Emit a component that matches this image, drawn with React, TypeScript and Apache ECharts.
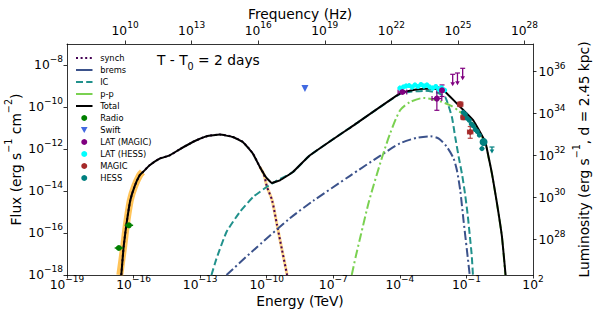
import React, { useEffect, useRef } from "react";
import * as echarts from "echarts";

const FONT = "DejaVu Sans";
const FREQ_OFFSET = 26.383; // log10(Hz per TeV)
const LUM_OFFSET = 44.32; // log10(4 pi d^2) as drawn

const energyTicks = [-19, -16, -13, -10, -7, -4, -1, 2];
const fluxTicks = [-18, -16, -14, -12, -10, -8];
const freqTicks = [10, 13, 16, 19, 22, 25, 28];
const lumTicks = [28, 30, 32, 34, 36];

// model curves: [log10 E (TeV), log10 flux]
const synchCurve = [
  [-16.553, -18.0], [-16.449, -16.667], [-16.327, -15.633], [-16.147, -14.443], [-15.953, -13.776],
  [-15.727, -13.252], [-15.578, -13.095], [-15.275, -12.776], [-14.824, -12.457], [-14.372, -12.3],
  [-13.921, -12.014], [-13.334, -11.667], [-12.702, -11.395], [-12.115, -11.314], [-11.528, -11.429],
  [-11.077, -11.667], [-10.625, -12.219], [-10.309, -12.857], [-10.129, -13.205], [-9.995, -13.776],
  [-9.758, -14.443], [-9.533, -15.633], [-9.307, -16.824], [-9.081, -18.0],
];
const synchBand = [
  [-16.62, -18.0], [-16.449, -16.667], [-16.327, -15.633], [-16.147, -14.443], [-15.953, -13.776],
  [-15.727, -13.252], [-15.6, -13.1],
];
const synchTail = [
  [-10.309, -12.857], [-10.129, -13.205], [-9.995, -13.776], [-9.758, -14.443], [-9.533, -15.633],
  [-9.307, -16.824], [-9.081, -18.0],
];
const bremsCurve = [
  [-11.813, -18.0], [-10.684, -16.905], [-8.955, -15.3], [-7.903, -14.467], [-6.246, -13.276],
  [-4.892, -12.324], [-3.989, -11.729], [-3.235, -11.467], [-2.634, -11.395], [-2.23, -11.514],
  [-1.88, -11.905], [-1.582, -12.443], [-1.429, -13.014], [-1.28, -13.967], [-1.131, -15.395],
  [-0.977, -16.824], [-0.851, -18.0],
];
const icCurve = [
  [-12.49, -18.0], [-12.264, -17.219], [-11.813, -15.952], [-11.212, -15.0], [-10.612, -14.286],
  [-10.007, -13.81], [-9.632, -13.562], [-8.819, -13.095], [-8.052, -12.3], [-6.02, -10.824],
  [-3.989, -9.37], [-3.447, -9.26], [-2.86, -9.23], [-2.366, -9.3], [-1.957, -9.524],
  [-1.655, -10.476], [-1.506, -11.429], [-1.348, -12.381], [-1.19, -13.252], [-1.054, -14.205],
  [-0.941, -15.157], [-0.842, -16.19], [-0.761, -17.062], [-0.707, -18.0],
];
const ppCurve = [
  [-6.169, -18.0], [-5.975, -17.062], [-5.772, -16.157], [-5.39, -14.49], [-4.815, -12.443],
  [-4.44, -11.267], [-3.989, -10.157], [-3.537, -9.762], [-2.937, -9.571], [-2.332, -9.681],
  [-1.731, -9.919], [-1.327, -10.205], [-0.786, -10.681], [-0.151, -11.705], [-0.002, -12.419],
  [0.151, -13.205], [0.377, -14.61], [0.603, -16.205], [0.752, -18.0],
];
const totalCurve = [
  [-16.553, -18.0], [-16.449, -16.667], [-16.327, -15.633], [-16.147, -14.443], [-15.953, -13.776],
  [-15.727, -13.252], [-15.578, -13.095], [-15.275, -12.776], [-14.824, -12.457], [-14.372, -12.3],
  [-13.921, -12.014], [-13.334, -11.667], [-12.702, -11.395], [-12.115, -11.314], [-11.528, -11.429],
  [-11.077, -11.667], [-10.625, -12.219], [-10.309, -12.857], [-10.038, -13.333], [-9.767, -13.619],
  [-9.406, -13.49], [-8.819, -13.095], [-8.052, -12.3], [-6.02, -10.824], [-3.989, -9.348],
  [-3.447, -9.205], [-2.86, -9.133], [-2.366, -9.133], [-1.957, -9.286], [-1.131, -10.157],
  [-0.693, -10.633], [-0.151, -11.667], [-0.002, -12.381], [0.151, -13.171], [0.377, -14.586],
  [0.603, -16.19], [0.765, -18.0],
];

// data points: [log E, log F, E low, E high, F low, F high]
const radioPts = [
  [-16.661, -16.714, -16.85, -16.47, -16.74, -16.69],
  [-16.21, -15.633, -16.4, -16.02, -15.66, -15.61],
];
const swiftPts = [[-8.278, -9.124]];
const latMagicPts = [
  [-3.885, -9.286, -4.08, -3.69, -9.34, -9.23],
  [-2.332, -9.6, -2.55, -2.11, -10.157, -9.048],
  [-2.1, -9.205, -2.2, -2.0, -9.5, -8.95],
];
const latHessPts = [
  [-4.0, -9.1, -4.1, -3.9, -9.22, -8.98],
  [-3.85, -9.05, -3.95, -3.75, -9.17, -8.93],
  [-3.72, -9.0, -3.82, -3.62, -9.12, -8.88],
  [-3.58, -8.98, -3.68, -3.48, -9.1, -8.86],
  [-3.45, -9.05, -3.55, -3.35, -9.17, -8.93],
  [-3.32, -8.95, -3.42, -3.22, -9.07, -8.83],
  [-3.18, -9.02, -3.28, -3.08, -9.14, -8.9],
  [-3.05, -8.93, -3.15, -2.95, -9.05, -8.81],
  [-2.92, -9.0, -3.02, -2.82, -9.12, -8.88],
  [-2.78, -8.95, -2.88, -2.68, -9.07, -8.83],
  [-2.65, -9.05, -2.75, -2.55, -9.17, -8.93],
  [-2.52, -9.1, -2.62, -2.42, -9.22, -8.98],
  [-2.38, -9.02, -2.48, -2.28, -9.14, -8.9],
  [-2.25, -9.15, -2.35, -2.15, -9.27, -9.03],
  [-2.12, -9.08, -2.22, -2.02, -9.2, -8.96],
  [-1.98, -9.2, -2.08, -1.88, -9.32, -9.08],
];
const latMagicUL = [
  [-1.619, -8.443, -9.014],
  [-1.404, -8.381, -8.967],
  [-1.169, -8.157, -8.729],
];
const magicPts = [
  [-1.28, -9.871, -1.4, -1.16, -9.98, -9.76],
  [-1.131, -10.49, -1.25, -1.01, -10.6, -10.38],
  [-0.828, -11.19, -0.95, -0.71, -11.49, -10.93],
];
const hessPts = [
  [-1.144, -10.252, -1.22, -1.04, -10.33, -10.17],
  [-1.054, -10.346, -1.13, -0.95, -10.43, -10.26],
  [-0.964, -10.539, -1.04, -0.86, -10.62, -10.46],
  [-0.873, -10.632, -0.95, -0.77, -10.71, -10.55],
  [-0.783, -10.806, -0.86, -0.68, -10.89, -10.72],
  [-0.693, -10.899, -0.77, -0.59, -10.98, -10.82],
  [-0.603, -11.072, -0.68, -0.5, -11.15, -10.99],
  [-0.512, -11.166, -0.59, -0.41, -11.25, -11.08],
  [-0.422, -11.339, -0.5, -0.32, -11.42, -11.26],
  [-0.3, -11.981, -0.42, -0.18, -12.06, -11.9],
  [-0.228, -11.667, -0.3, -0.13, -11.76, -11.58],
];
const hessBigIndex = 10;
const hessUL = [[0.151, -11.905, -12.22]];

const legendNames = ["synch", "brems", "IC", "p-p", "Total", "Radio", "Swift", "LAT (MAGIC)", "LAT (HESS)", "MAGIC", "HESS"];
const lineNames = ["synch", "brems", "IC", "p-p", "Total"];
const solidLegendNames = ["brems", "p-p"];

const supLabel = (v: number) => {
  const n = Math.round(v);
  return `{b|10}{s|${n < 0 ? "\u2212" + Math.abs(n) : n}}`;
};

const tickRich = {
  b: { fontSize: 12.3, fontFamily: FONT, color: "#000", lineHeight: 20 },
  s: { fontSize: 9, fontFamily: FONT, color: "#000", lineHeight: 8, padding: [0, 0, 12, 0] },
};
const nameRich = {
  n: { fontSize: 13.8, fontFamily: FONT, color: "#000", lineHeight: 20, verticalAlign: "bottom" },
  p: { fontSize: 9.6, fontFamily: FONT, color: "#000", lineHeight: 10, verticalAlign: "top" },
};

const axisCommon = (ticks: number[], margin: number) => ({
  type: "value",
  axisLine: { show: true, onZero: false, lineStyle: { color: "#000", width: 0.8 } },
  axisTick: { show: true, inside: false, length: 3.5, customValues: ticks, lineStyle: { color: "#000", width: 0.8 } },
  axisLabel: { show: true, customValues: ticks, margin, formatter: supLabel, rich: tickRich },
  splitLine: { show: false },
  nameMoveOverlap: false,
});

const lineSeries = (name: string, data: number[][], color: string, type: any, width: number, z: number, opacity = 1, smooth = 0.25) => ({
  type: "line",
  name,
  data,
  xAxisIndex: 0,
  yAxisIndex: 0,
  symbol: "none",
  showSymbol: false,
  smooth,
  lineStyle: { color, width, type, cap: "butt", opacity },
  itemStyle: { color },
  z,
  silent: true,
});

const errorSeries = (name: string, rows: number[][], color: string, cap: number, width: number, opacity: number) => ({
  type: "custom",
  name,
  data: rows,
  xAxisIndex: 0,
  yAxisIndex: 0,
  encode: { x: 0, y: 1 },
  z: 4,
  silent: true,
  renderItem: (_p: any, api: any) => {
    const x = api.value(0), y = api.value(1);
    const pL = api.coord([api.value(2), y]);
    const pR = api.coord([api.value(3), y]);
    const pB = api.coord([x, api.value(4)]);
    const pT = api.coord([x, api.value(5)]);
    const style = { stroke: color, lineWidth: width, opacity };
    const children: any[] = [
      { type: "line", shape: { x1: pL[0], y1: pL[1], x2: pR[0], y2: pR[1] }, style },
      { type: "line", shape: { x1: pB[0], y1: pB[1], x2: pT[0], y2: pT[1] }, style },
    ];
    if (cap > 0) {
      children.push(
        { type: "line", shape: { x1: pB[0] - cap, y1: pB[1], x2: pB[0] + cap, y2: pB[1] }, style },
        { type: "line", shape: { x1: pT[0] - cap, y1: pT[1], x2: pT[0] + cap, y2: pT[1] }, style },
        { type: "line", shape: { x1: pL[0], y1: pL[1] - cap, x2: pL[0], y2: pL[1] + cap }, style },
        { type: "line", shape: { x1: pR[0], y1: pR[1] - cap, x2: pR[0], y2: pR[1] + cap }, style }
      );
    }
    return { type: "group", children };
  },
});

const ulSeries = (name: string, rows: number[][], color: string) => ({
  type: "custom",
  name,
  data: rows,
  xAxisIndex: 0,
  yAxisIndex: 0,
  encode: { x: 0, y: 1 },
  z: 4,
  silent: true,
  renderItem: (_p: any, api: any) => {
    const x = api.value(0);
    const t = api.coord([x, api.value(1)]);
    const b = api.coord([x, api.value(2)]);
    return {
      type: "group",
      children: [
        { type: "line", shape: { x1: t[0], y1: t[1], x2: b[0], y2: b[1] - 3 }, style: { stroke: color, lineWidth: 1.3 } },
        { type: "line", shape: { x1: t[0] - 2.5, y1: t[1], x2: t[0] + 2.5, y2: t[1] }, style: { stroke: color, lineWidth: 1.2 } },
        {
          type: "polygon",
          shape: { points: [[b[0] - 2.3, b[1] - 4], [b[0] + 2.3, b[1] - 4], [b[0], b[1]]] },
          style: { fill: color },
        },
      ],
    };
  },
});

const scatter = (name: string, rows: any[], color: string, size: number, symbol = "circle") => ({
  type: "scatter",
  name,
  data: rows,
  xAxisIndex: 0,
  yAxisIndex: 0,
  symbol,
  symbolSize: size,
  itemStyle: { color, opacity: 1 },
  z: 5,
  silent: true,
});

export default function App() {
  const ref = useRef<HTMLDivElement>(null);
  useEffect(() => {
    if (!ref.current) return;
    const chart = echarts.init(ref.current, null, { renderer: "svg" });
    const option: any = {
      animation: false,
      backgroundColor: "#fff",
      textStyle: { fontFamily: FONT },
      grid: { left: 67, right: 60, top: 44, bottom: 40, containLabel: false, outerBoundsMode: "none" },
      xAxis: [
        {
          ...axisCommon(energyTicks, 0),
          position: "bottom",
          min: -19,
          max: 2,
          name: "Energy (TeV)",
          nameLocation: "middle",
          nameGap: 18,
          nameTextStyle: { fontSize: 13.8, fontFamily: FONT, color: "#000", lineHeight: 16 },
        },
        {
          ...axisCommon(freqTicks, 3),
          position: "top",
          min: -19 + FREQ_OFFSET,
          max: 2 + FREQ_OFFSET,
          name: "Frequency (Hz)",
          nameLocation: "middle",
          nameGap: 22.5,
          nameTextStyle: { fontSize: 13.8, fontFamily: FONT, color: "#000", lineHeight: 16 },
        },
      ],
      yAxis: [
        {
          ...axisCommon(fluxTicks, 4),
          position: "left",
          min: -18,
          max: -7,
          name: "{n|Flux (erg s}{p|\u22121}{n| cm}{p|\u22122}{n|)}",
          nameLocation: "middle",
          nameRotate: 90,
          nameGap: 44,
          nameTextStyle: { rich: nameRich },
        },
        {
          ...axisCommon(lumTicks, 5.5),
          position: "right",
          min: -18 + LUM_OFFSET,
          max: -7 + LUM_OFFSET,
          name: "{n|Luminosity (erg s}{p|\u22121}{n|, d = 2.45 kpc)}",
          nameLocation: "middle",
          nameRotate: 90,
          nameGap: 38,
          nameTextStyle: { rich: nameRich },
        },
      ],
      legend: {
        orient: "vertical",
        left: 70,
        top: 49,
        padding: 5,
        itemWidth: 16.5,
        itemHeight: 6,
        itemGap: 4.0,
        selectedMode: false,
        formatter: (n: string) => " " + n,
        textStyle: { fontFamily: FONT, fontSize: 8.3, color: "#000" },
        data: legendNames.map((n) =>
          lineNames.includes(n)
            ? solidLegendNames.includes(n)
              ? { name: n, itemStyle: { opacity: 0 }, lineStyle: { type: "solid" } }
              : { name: n, itemStyle: { opacity: 0 } }
            : { name: n }
        ),
      },
      graphic: [
        {
          type: "text",
          left: 157,
          top: 53,
          style: {
            text: "{a|T - T}{u|0}{a| = 2 days}",
            rich: {
              a: { fontSize: 13.8, fontFamily: FONT, fill: "#000", lineHeight: 18, verticalAlign: "top" },
              u: { fontSize: 9.6, fontFamily: FONT, fill: "#000", lineHeight: 10, verticalAlign: "bottom" },
            },
          },
        },
      ],
      series: [
        lineSeries("band", synchBand, "#ffa500", "solid", 7, 1, 0.65),
        lineSeries("bandTail", synchTail, "#ffa500", "solid", 3, 1, 0.45),
        lineSeries("synch", synchCurve, "#440154", [2, 2.6], 2, 2),
        lineSeries("brems", bremsCurve, "#3b528b", [9, 3, 2, 3], 2, 2),
        lineSeries("IC", icCurve, "#21918c", [7, 3.2], 2, 2, 1, 0.15),
        lineSeries("p-p", ppCurve, "#7ad151", [9, 3, 2, 3], 2, 2),
        lineSeries("Total", totalCurve, "#000000", "solid", 2, 3, 1, 0.12),
        errorSeries("Radio err", radioPts, "#008000", 0, 1.5, 1),
        errorSeries("LAT (HESS) err", latHessPts, "#00ffff", 0, 1.3, 0.8),
        errorSeries("LAT (MAGIC) err", latMagicPts, "#800080", 2.5, 1.2, 1),
        errorSeries("MAGIC err", magicPts, "#a52a2a", 2.5, 1.2, 0.85),
        errorSeries("HESS err", hessPts, "#008080", 0, 1.1, 0.6),
        ulSeries("LAT (MAGIC) UL", latMagicUL, "#800080"),
        ulSeries("HESS UL", hessUL, "#008080"),
        scatter("Radio", radioPts.map((r) => [r[0], r[1]]), "#008000", 6),
        scatter("Swift", swiftPts, "#4169e1", 7, "path://M0,0L10,0L5,9Z"),
        scatter("LAT (HESS)", latHessPts.map((r) => [r[0], r[1]]), "#00ffff", 5),
        scatter("LAT (MAGIC)", latMagicPts.map((r) => [r[0], r[1]]), "#800080", 6),
        scatter("MAGIC", magicPts.map((r) => [r[0], r[1]]), "#a52a2a", 6),
        scatter(
          "HESS",
          hessPts.map((r, i) => (i === hessBigIndex ? { value: [r[0], r[1]], symbolSize: 8 } : [r[0], r[1]])),
          "#008080",
          5
        ),
      ],
    };
    chart.setOption(option);
    return () => chart.dispose();
  }, []);
  return <div ref={ref} style={{ position: "fixed", left: 0, top: 0, width: 593, height: 315, background: "#fff" }} />;
}
